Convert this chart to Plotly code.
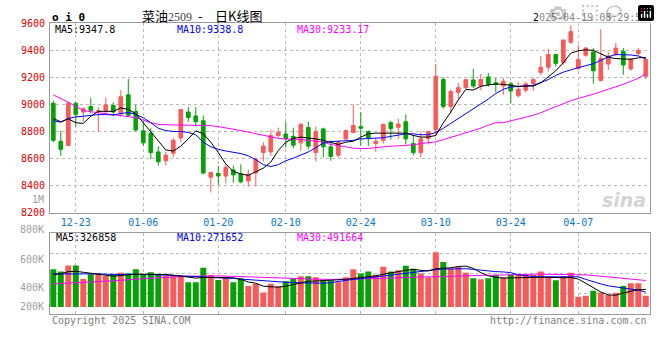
import plotly.graph_objects as go

W, H = 660, 360

dates = ["12-18","12-19","12-20","12-23","12-24","12-25","12-26","12-27","12-30","12-31",
         "01-02","01-03","01-06","01-07","01-08","01-09","01-10","01-13","01-14","01-15",
         "01-16","01-17","01-20","01-21","01-22","01-23","01-24","01-27",
         "02-05","02-06","02-07","02-10","02-11","02-12","02-13","02-14","02-17","02-18",
         "02-19","02-20","02-21","02-24","02-25","02-26","02-27","02-28",
         "03-03","03-04","03-05","03-06","03-07","03-10","03-11","03-12","03-13","03-14",
         "03-17","03-18","03-19","03-20","03-21","03-24","03-25","03-26","03-27","03-28",
         "03-31","04-01","04-02","04-03","04-07","04-08","04-09","04-10","04-11",
         "04-14","04-15","04-16","04-17","04-18"]

open_ = [9010,8729,8698,9010,8945,8986,8950,8957,8993,8933,
         9072,8950,8806,8789,8650,8585,8640,8753,8945,8916,
         8880,8463,8491,8472,8518,8490,8435,8494,8645,8650,
         8772,8782,8765,8717,8830,8645,8820,8688,8626,8746,
         8794,8837,8801,8712,8736,8866,8832,8873,8712,8645,
         8748,8813,9185,8986,9091,9125,9182,9137,9204,9161,
         9137,9154,9065,9106,9156,9238,9276,9370,9312,9461,
         9269,9365,9389,9178,9300,9370,9394,9264,9377,9209]
high = [9030,8808,9025,9017,8981,9048,8981,9053,9017,9106,
        9190,8998,8873,8825,8693,8650,8753,8964,8981,8981,
        8920,8500,8547,8560,8550,8558,8520,8610,8722,8813,
        8830,8873,8830,8866,8873,8837,8830,8736,8736,8815,
        9000,8945,8810,8753,8860,8880,8894,8928,8777,8801,
        8801,9300,9202,9113,9161,9185,9264,9226,9233,9197,
        9197,9168,9168,9168,9197,9360,9413,9377,9478,9586,
        9442,9425,9418,9557,9389,9456,9418,9346,9418,9340]
low = [8722,8621,8695,8837,8873,8933,8801,8933,8914,8909,
       8909,8801,8693,8597,8549,8549,8609,8722,8873,8837,
       8484,8350,8405,8418,8423,8418,8392,8395,8578,8621,
       8753,8681,8676,8657,8669,8580,8609,8585,8609,8735,
       8789,8698,8693,8650,8712,8741,8746,8705,8626,8609,
       8705,8765,8969,8933,9041,9115,9120,9106,9132,9089,
       9072,9010,9053,9089,9101,9216,9245,9281,9293,9449,
       9257,9353,9156,9173,9257,9360,9221,9250,9365,9190]
close = [8736,8669,9010,8928,8969,8957,8955,8998,8945,9058,
         8921,8813,8717,8645,8578,8626,8736,8964,8904,8873,
         8494,8499,8472,8536,8480,8429,8485,8596,8693,8772,
         8796,8748,8700,8854,8693,8801,8688,8616,8722,8808,
         8846,8825,8753,8729,8854,8822,8856,8746,8645,8748,
         8801,9209,8986,9096,9125,9185,9137,9185,9149,9149,
         9173,9101,9113,9154,9185,9276,9370,9305,9478,9540,
         9334,9418,9250,9341,9360,9418,9293,9336,9401,9334]

ma5 = [8897,8873,8894,8866,8861,8914,8950,8950,8950,8976,
       8964,8933,8866,8801,8729,8664,8657,8693,8746,8806,
       8784,8722,8645,8561,8506,8486,8477,8501,8530,8575,
       8660,8722,8750,8760,8755,8746,8736,8722,8705,8722,
       8729,8760,8784,8789,8789,8789,8789,8789,8772,8760,
       8760,8772,8865,8945,9035,9112,9108,9135,9145,9152,
       9150,9142,9134,9137,9137,9161,9205,9250,9310,9380,
       9398,9405,9401,9377,9350,9340,9338,9335,9346,9348]
ma10 = [8880,8870,8897,8909,8914,8921,8926,8926,8923,8933,
        8942,8928,8902,8866,8825,8808,8801,8801,8794,8777,
        8722,8688,8669,8657,8650,8638,8621,8592,8556,8542,
        8556,8585,8604,8626,8650,8681,8717,8726,8729,8734,
        8736,8746,8748,8750,8755,8765,8777,8784,8784,8777,
        8777,8794,8825,8861,8897,8933,8969,9000,9041,9082,
        9113,9130,9137,9139,9142,9161,9185,9216,9240,9257,
        9274,9288,9302,9329,9353,9370,9370,9367,9360,9339]
ma30 = [9072,9046,9017,8986,8957,8947,8940,8935,8928,8921,
        8916,8904,8885,8866,8854,8849,8849,8849,8849,8849,
        8849,8844,8837,8830,8818,8808,8796,8784,8774,8760,
        8750,8746,8746,8741,8736,8729,8722,8705,8698,8688,
        8678,8674,8676,8683,8688,8693,8695,8698,8702,8712,
        8717,8724,8741,8758,8772,8789,8808,8825,8849,8866,
        8866,8880,8892,8904,8921,8940,8962,8986,9005,9029,
        9046,9060,9077,9096,9113,9132,9150,9172,9195,9228]

# volume in thousands
volume_k = [700,658,772,772,520,610,622,581,610,635,
            622,700,610,646,599,581,593,581,461,461,
            730,593,502,551,461,528,389,431,269,431,
            384,479,528,569,569,551,502,492,461,551,
            700,622,658,599,748,658,682,766,712,622,
            551,1017,838,712,742,635,533,515,533,599,
            551,610,593,599,599,658,551,497,569,635,
            192,210,300,269,228,264,389,443,443,210]
vma5_k = [603,615,657,663,645,627,609,585,573,585,
          603,609,609,609,609,603,591,573,555,537,
          549,549,549,549,543,513,465,441,387,375,
          369,387,417,459,477,483,489,489,501,513,
          531,543,561,579,609,627,657,681,699,681,
          669,711,717,729,753,759,717,639,579,549,
          537,537,543,549,549,555,549,543,543,549,
          519,441,357,279,225,219,261,297,321,327]
vma10_k = [615,615,621,627,627,621,615,609,603,603,
           609,609,603,597,597,591,585,579,573,567,
           561,561,555,543,531,519,507,495,483,471,
           465,459,453,447,441,441,441,453,477,489,
           513,525,543,555,573,597,615,627,645,657,
           675,693,705,711,711,711,699,681,663,657,
           651,639,597,579,567,561,561,567,567,573,
           561,513,465,429,393,369,351,333,315,275]
vma30_k = [429,435,447,453,459,471,477,483,489,495,
           507,519,525,531,543,549,561,567,573,573,
           579,579,579,573,573,567,561,555,549,543,
           543,537,531,525,519,519,513,513,519,519,
           519,525,525,531,531,537,543,549,555,555,
           561,561,567,567,573,579,579,585,591,591,
           597,597,603,603,609,609,609,609,609,609,
           603,597,585,573,561,549,537,525,507,492]

date_ticks = ["12-23","01-06","01-20","02-10","02-24","03-10","03-24","04-07"]
price_ticks = [8200,8400,8600,8800,9000,9200,9400,9600]
vol_tick_labels = ["800K","600K","400K","200K"]

title_main = "菜油"
title_code = "2509"
title_tail = "日K线图"
timestamp = "2025-04-19 08:29:59"
ma_labels = ["MA5:9347.8", "MA10:9338.8", "MA30:9233.17"]
vma_labels = ["MA5:326858", "MA10:271652", "MA30:491664"]

RED = "#f85a5a"
GREEN = "#08a008"
MONO = "DejaVu Sans Mono"
GRID = "#b8b8b8"
FRAME = "#9a9a9a"

volume = [v * 1000 for v in volume_k]
vma5 = [v * 1000 for v in vma5_k]
vma10 = [v * 1000 for v in vma10_k]
vma30 = [v * 1000 for v in vma30_k]
bar_colors = [RED if c >= o else GREEN for o, c in zip(open_, close)]

fig = go.Figure()
fig.add_trace(go.Candlestick(
    x=dates, open=open_, high=high, low=low, close=close,
    increasing=dict(line=dict(color=RED, width=1), fillcolor=RED),
    decreasing=dict(line=dict(color=GREEN, width=1), fillcolor=GREEN),
    whiskerwidth=0, hoverinfo="skip", showlegend=False, xaxis="x", yaxis="y"))
for series, col in [(ma30, "#ff00ff"), (ma10, "#0000ff"), (ma5, "#000000")]:
    fig.add_trace(go.Scatter(x=dates, y=series, mode="lines", line=dict(color=col, width=1),
                             hoverinfo="skip", showlegend=False, xaxis="x", yaxis="y"))

fig.add_trace(go.Bar(x=dates, y=volume, marker=dict(color=bar_colors, line=dict(width=0)),
                     width=0.8, hoverinfo="skip", showlegend=False, xaxis="x2", yaxis="y2"))
for series, col in [(vma30, "#ff00ff"), (vma10, "#0000ff"), (vma5, "#000000")]:
    fig.add_trace(go.Scatter(x=dates, y=series, mode="lines", line=dict(color=col, width=1),
                             hoverinfo="skip", showlegend=False, xaxis="x2", yaxis="y2"))

# layout geometry (pixels)
L, R = 50, 650
MAIN_T, MAIN_B = 18, 213.3
VOL_T, VOL_B = 234.3, 317.3

def fx(px):
    return px / W

def fy(py):
    return 1 - py / H

xcommon = dict(type="category", range=[-0.44, 79.56], showgrid=True, gridcolor=GRID,
               griddash="dot", gridwidth=1, showline=True, mirror=True, linecolor=FRAME,
               linewidth=1, ticks="", tickvals=date_ticks, ticktext=date_ticks,
               zeroline=False, fixedrange=True)

fig.update_layout(
    width=W, height=H, margin=dict(l=0, r=0, t=0, b=0),
    paper_bgcolor="white", plot_bgcolor="white", showlegend=False,
    xaxis=dict(**xcommon, domain=[fx(L), fx(R)], anchor="y",
               tickfont=dict(family=MONO, size=10, color="#0a78c8"),
               rangeslider=dict(visible=False)),
    xaxis2=dict(**xcommon, domain=[fx(L), fx(R)], anchor="y2", showticklabels=False,
                rangeslider=dict(visible=False)),
    yaxis=dict(domain=[fy(MAIN_B), fy(MAIN_T)], range=[8200, 9600], tickvals=price_ticks,
               ticktext=[str(t) for t in price_ticks], showgrid=True, gridcolor=GRID,
               griddash="dot", showline=True, mirror=True, linecolor=FRAME, ticks="",
               tickfont=dict(family=MONO, size=10, color="#e00000"), zeroline=False,
               anchor="x", fixedrange=True, ticklabelstandoff=2),
    yaxis2=dict(domain=[fy(VOL_B), fy(VOL_T)], range=[-122400, 1371600], tickmode="linear",
                tick0=-122400, dtick=373500, showticklabels=False, showgrid=True,
                gridcolor=GRID, griddash="dot", showline=True, mirror=True,
                linecolor=FRAME, ticks="", zeroline=False, anchor="x2", fixedrange=True),
)

ann = []
def text(x, y, s, color="#000", size=10, anchor="left", family=MONO, bold=False, italic=False):
    if bold:
        s = "<b>" + s + "</b>"
    if italic:
        s = "<i>" + s + "</i>"
    ann.append(dict(x=fx(x), y=fy(y), xref="paper", yref="paper", text=s, showarrow=False,
                    xanchor=anchor, yanchor="middle",
                    font=dict(family=family, size=size, color=color)))

text(50, 12, "o i 0", bold=True, size=11)
text(140, 10, title_main + "<span style='font-family:Liberation Serif;font-size:12px;color:#444'>" + title_code + "</span>",
     size=13, family="Noto Sans CJK SC")
text(200, 10, "-", size=13, anchor="center", family="Noto Sans CJK SC")
text(213, 10, title_tail, size=13, family="Noto Sans CJK SC")
text(649, 12, timestamp, anchor="right", size=10)

for lbl, x, col in zip(ma_labels, [53, 175, 295], ["#000000", "#0000ff", "#ff00ff"]):
    text(x, 24, lbl, color=col)
for lbl, x, col in zip(vma_labels, [54, 175, 295], ["#000000", "#0000ff", "#ff00ff"]):
    text(x, 239, lbl, color=col)

for lbl, y in zip(vol_tick_labels, [231, 261, 290, 310]):
    text(46, y, lbl, color="#a0a0a0", anchor="right")
text(46, 200, "1M", color="#a0a0a0", anchor="right")

text(50, 324, "Copyright 2025 SINA.COM", color="#808080")
text(649, 324, "http://finance.sina.com.cn", color="#808080", anchor="right")
text(624, 200, "sina", color="#d4d4d4", size=19, anchor="center", family="DejaVu Sans",
     bold=True, italic=True)

fig.update_layout(annotations=ann)
fig.write_html("out.html", post_script="document.body.style.margin='0';")
